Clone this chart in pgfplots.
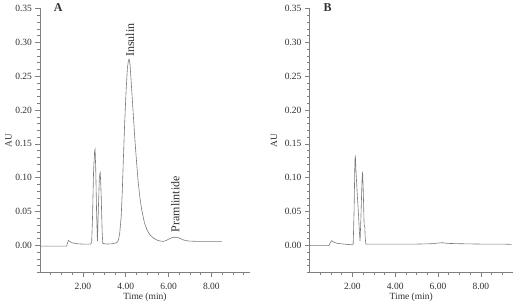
\documentclass[border=0pt]{standalone}
\usepackage{fontspec}
\setmainfont{Liberation Serif}
\usepackage{pgfplots}
\pgfplotsset{compat=1.18}
\definecolor{trace}{HTML}{7A7A7A}
\definecolor{axgray}{HTML}{808080}
\definecolor{txt}{HTML}{303030}
\pgfplotsset{
  chrom/.style={
    scale only axis,
    height=264pt,
    ymin=-0.04, ymax=0.35,
    axis lines*=left,
    axis line style={axgray, line width=0.6pt},
    tick align=outside,
    major tick length=4.5pt,
    minor tick length=2.5pt,
    every tick/.style={axgray, line width=0.5pt},
    ytick={0,0.05,0.10,0.15,0.20,0.25,0.30,0.35},
    minor ytick={-0.04,-0.03,-0.02,-0.01,0.01,0.02,0.03,0.04,0.06,0.07,0.08,0.09,0.11,0.12,0.13,0.14,0.16,0.17,0.18,0.19,0.21,0.22,0.23,0.24,0.26,0.27,0.28,0.29,0.31,0.32,0.33,0.34},
    xtick={2,4,6,8},
    /pgf/number format/assume math mode=true,
    xticklabel style={/pgf/number format/.cd, fixed, fixed zerofill, precision=2, /tikz/.cd, font=\fontsize{9.5}{11}\selectfont, text=txt, yshift=-3pt},
    yticklabel style={/pgf/number format/.cd, fixed, fixed zerofill, precision=2, /tikz/.cd, font=\fontsize{9.5}{11}\selectfont, text=txt},
    scaled y ticks=false,
    xlabel={Time (min)},
    ylabel={AU},
    xlabel style={at={(axis description cs:0.5,0)}, anchor=center, yshift=-24.5pt, font=\fontsize{9.5}{11}\selectfont, text=txt},
    ylabel style={font=\fontsize{9.5}{11}\selectfont, text=txt},
    clip=false,
  }
}
\begin{document}
\begin{tikzpicture}
\useasboundingbox (-40pt,-34.5pt) rectangle (478pt,272.5pt);
% Panel A
\begin{axis}[chrom,
  at={(0pt,0pt)}, anchor=south west,
  width=210pt,
  xmin=0, xmax=9.8,
  minor xtick={0.5,1,1.5,2.5,3,3.5,4.5,5,5.5,6.5,7,7.5,8.5,9,9.5},
  ylabel style={at={([xshift=-31.5pt]axis description cs:0,0.5)}, anchor=center},
]
\addplot[trace, line width=0.6pt] coordinates {
(0,-0.001) (1.24,-0.001) (1.28,0.003) (1.32,0.0075) (1.38,0.006) (1.5,0.004) (1.7,0.0025) (2.0,0.002) (2.36,0.002)
(2.41,0.004) (2.45,0.04) (2.50,0.11) (2.55,0.140) (2.57,0.142) (2.60,0.115) (2.64,0.05) (2.68,0.006)
(2.72,0.05) (2.77,0.10) (2.81,0.109) (2.85,0.08) (2.90,0.02) (2.93,0.003)
(3.1,0.002) (3.4,0.0025) (3.58,0.004) (3.66,0.008) (3.72,0.018) (3.79,0.043) (3.84,0.08) (3.89,0.127) (3.95,0.18) (4.02,0.23)
(4.08,0.262) (4.13,0.274) (4.16,0.275) (4.20,0.268) (4.28,0.23) (4.36,0.19) (4.44,0.151) (4.52,0.118) (4.59,0.091)
(4.67,0.069) (4.75,0.052) (4.87,0.034) (4.99,0.023) (5.12,0.016) (5.29,0.011) (5.45,0.008) (5.6,0.0065) (5.76,0.006)
(5.9,0.0075) (6.05,0.010) (6.2,0.012) (6.35,0.012) (6.5,0.011) (6.7,0.008) (6.93,0.0065) (7.3,0.006) (8.0,0.006) (8.49,0.006)
};
\node[rotate=90, anchor=west, font=\fontsize{12}{14}\selectfont, text=txt, inner sep=1pt] at (axis cs:4.2,0.277) {Insulin};
\node[rotate=90, anchor=west, font=\fontsize{12}{14}\selectfont, text=txt, inner sep=1pt] at (axis cs:6.31,0.018) {Pramlintide};
\node[font=\fontsize{12}{14}\selectfont\bfseries, text=txt] at (axis cs:0.85,0.352) {A};
\end{axis}
% Panel B
\begin{axis}[chrom,
  at={(269.5pt,0pt)}, anchor=south west,
  width=203.5pt,
  xmin=0, xmax=9.5,
  minor xtick={0.5,1,1.5,2.5,3,3.5,4.5,5,5.5,6.5,7,7.5,8.5,9},
  ylabel style={at={([xshift=-35.5pt]axis description cs:0,0.5)}, anchor=center},
]
\addplot[trace, line width=0.6pt] coordinates {
(0,0.0) (0.92,0.0) (0.97,0.004) (1.04,0.007) (1.12,0.005) (1.3,0.003) (1.6,0.002) (1.95,0.001) (2.04,0.002)
(2.08,0.05) (2.12,0.125) (2.14,0.133) (2.17,0.11) (2.22,0.08) (2.28,0.05) (2.33,0.02) (2.36,0.006)
(2.40,0.04) (2.45,0.095) (2.48,0.109) (2.51,0.08) (2.55,0.03) (2.58,0.028) (2.60,0.012) (2.63,0.002)
(3.0,0.002) (4.0,0.002) (5.0,0.002) (5.7,0.0025) (6.0,0.0035) (6.2,0.004) (6.45,0.003) (7.0,0.0025) (8.0,0.002) (9.0,0.002) (9.43,0.0015)
};
\node[font=\fontsize{12}{14}\selectfont\bfseries, text=txt] at (axis cs:0.85,0.352) {B};
\end{axis}
\end{tikzpicture}
\end{document}
